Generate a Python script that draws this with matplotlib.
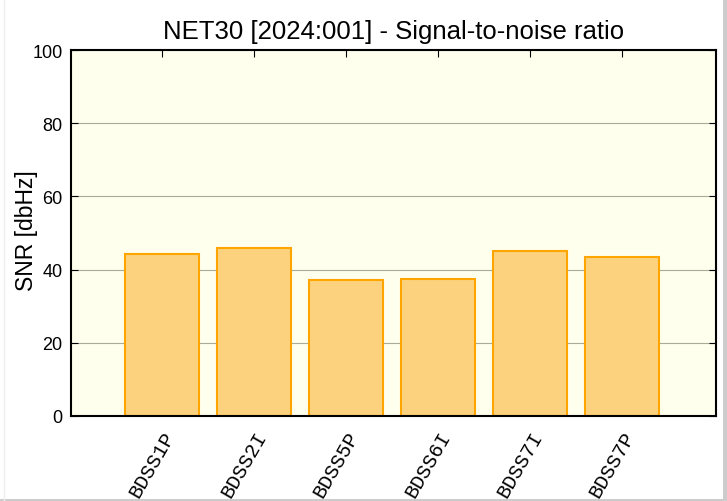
import matplotlib
matplotlib.use("Agg")
import matplotlib.pyplot as plt
from matplotlib.patches import Rectangle
from matplotlib.lines import Line2D

categories = ["BDSS1P", "BDSS2I", "BDSS5P", "BDSS6I", "BDSS7I", "BDSS7P"]
snr_values = [44.3, 45.8, 37.2, 37.4, 45.1, 43.4]
y_ticks = [0, 20, 40, 60, 80, 100]

W, H = 727, 502
fig = plt.figure(figsize=(W/100, H/100), dpi=100)
ax = fig.add_axes([71/W, (H-417)/H, (716-71)/W, (417-51)/H])
ax.set_facecolor("#ffffee")

x = list(range(len(categories)))
ax.bar(x, snr_values, width=0.8, color="#fdd27e", edgecolor="#ffa500", linewidth=1.5, zorder=3)

ax.set_xlim(-0.99, 6.02)
ax.set_ylim(0, 100)
ax.set_yticks(y_ticks)
ax.set_yticklabels([str(v) for v in y_ticks], fontsize=13, family="Liberation Sans")
ax.set_xticks(x)
ax.set_xticklabels(categories, rotation=60, ha="right", va="top", rotation_mode="anchor",
                   fontsize=14.5, family="Liberation Mono")
ax.tick_params(axis="both", direction="in", length=5, width=0.8, top=True, right=True)
ax.tick_params(axis="x", pad=8)
ax.tick_params(axis="y", pad=6)
ax.grid(axis="y", color="#aaaa99", linewidth=0.8, zorder=0)
for s in ax.spines.values():
    s.set_linewidth(1.5)
    s.set_color("black")
    s.set_zorder(5)

ax.set_ylabel("SNR [dbHz]", fontsize=16.5, family="Liberation Sans")
ax.yaxis.set_label_coords(-0.051, 0.51)
ax.set_title("NET30 [2024:001] - Signal-to-noise ratio", fontsize=18.5, family="Liberation Sans", pad=9)

# faint screenshot frame
fig.add_artist(Rectangle((723/W, 0), 4/W, 1, transform=fig.transFigure, color="#cccccc", lw=0))
fig.add_artist(Rectangle((0, 0), 1, 2/H, transform=fig.transFigure, color="#cccccc", lw=0))
fig.add_artist(Line2D([3.5/W, 3.5/W], [0, 1], transform=fig.transFigure, color="#eeeeee", lw=1))

fig.savefig("out.png", dpi=100)
